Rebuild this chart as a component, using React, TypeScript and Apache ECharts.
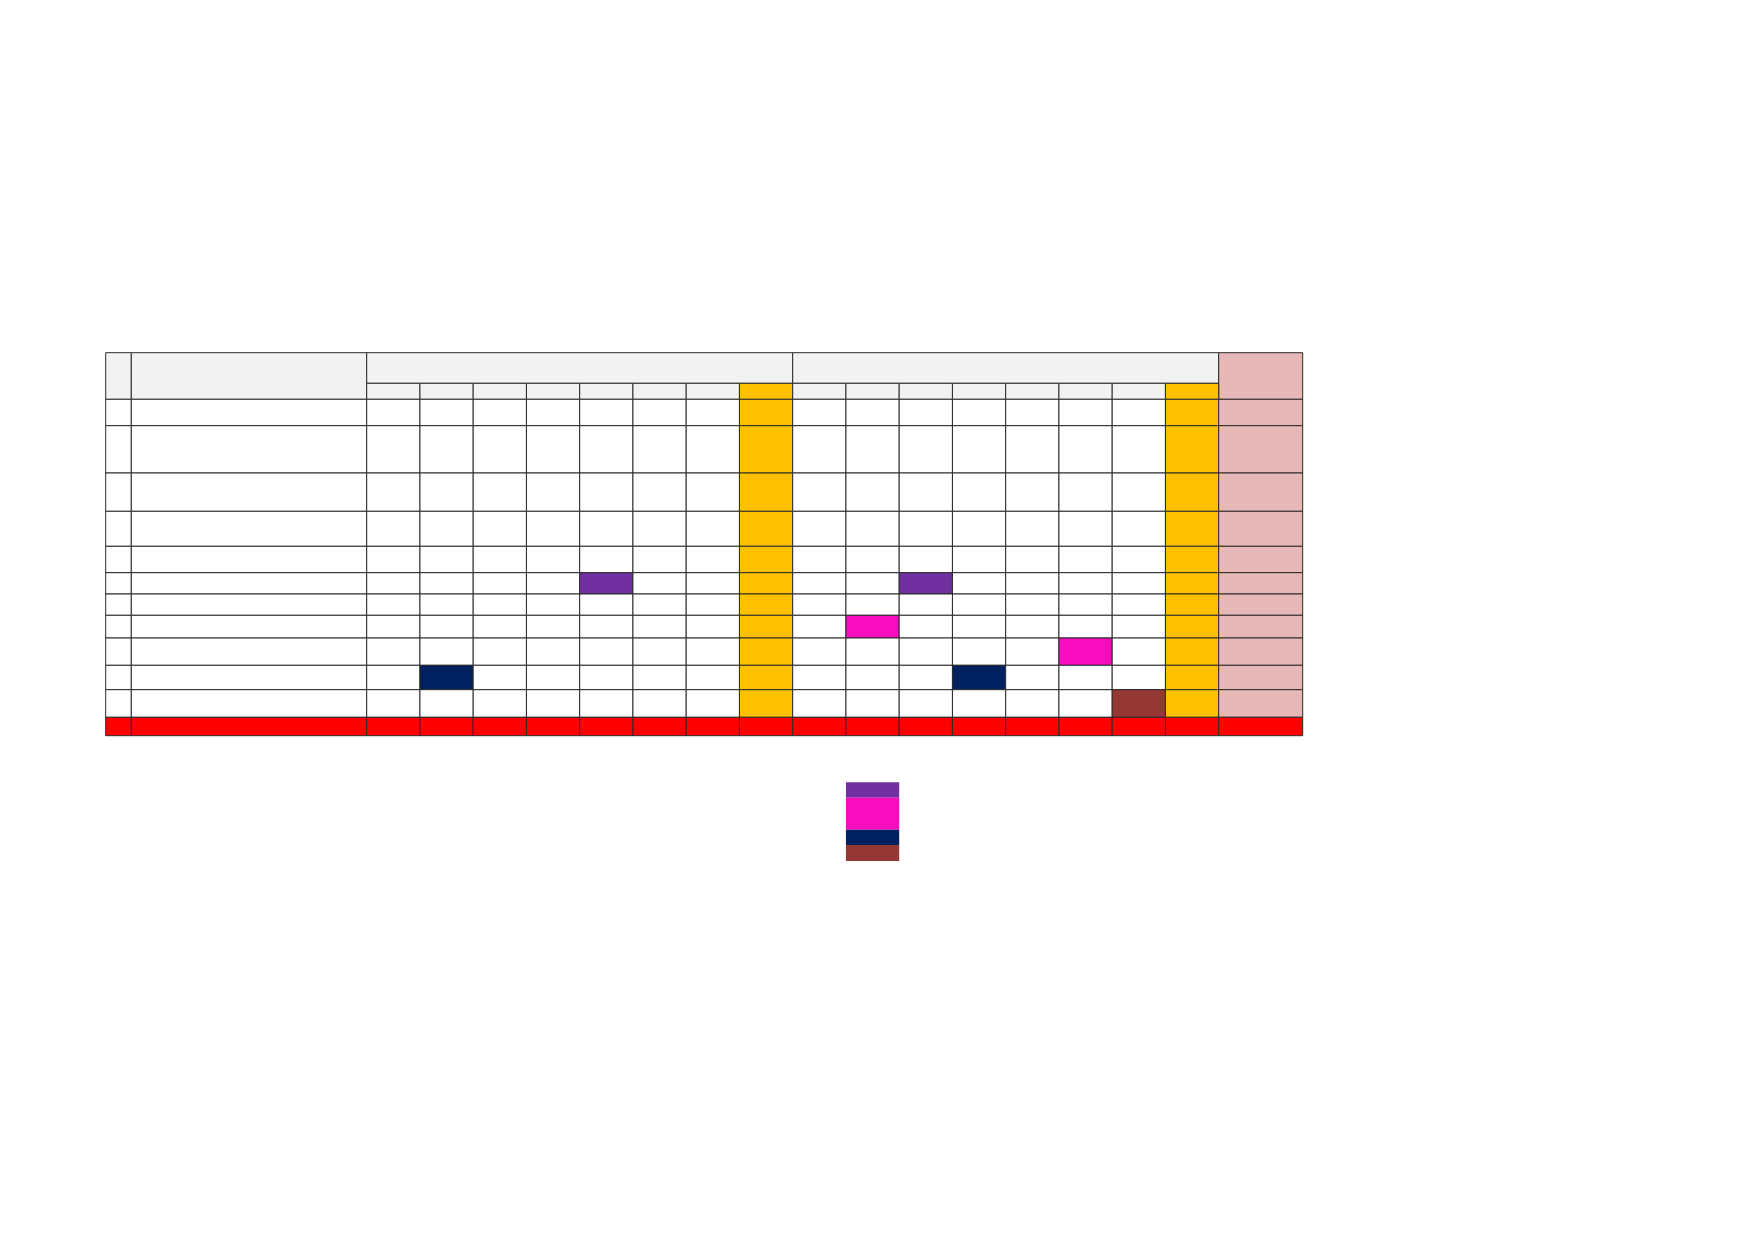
import { useEffect, useRef } from 'react'
import * as echarts from 'echarts'

// Table layout: column widths / row heights in reference units (1 unit = 1px)
const colWidths = [25.6, 235.4, ...Array(16).fill(53.25), 84]
const rowHeights = [30.6, 16, 26.4, 47.3, 38.3, 35, 26.4, 21.3, 21.3, 22.7, 27.3, 24.4, 27.6, 18.4]
const legendGap = 46.6
const legendHeights = [15.4, 32, 15.3, 16]

const palette: Record<string, string> = {
  white: '#FFFFFF',
  gray: '#F2F2F2',
  yellow: '#FFC000',
  pink: '#E6B8B7',
  red: '#FF0000',
  purple: '#7030A0',
  magenta: '#F80CBE',
  navy: '#002060',
  brown: '#953735',
}
const colorKeys = Object.keys(palette)

// month columns run 2..17, subtotal columns are the 8th of each block
const subtotalCols = [9, 17]
const totalCol = 18
const dataRowCount = 11

// highlighted cells: [data row, column, colour]
const highlights: [number, number, string][] = [
  [5, 6, 'purple'],
  [5, 12, 'purple'],
  [7, 11, 'magenta'],
  [8, 15, 'magenta'],
  [9, 3, 'navy'],
  [9, 13, 'navy'],
  [10, 16, 'brown'],
]

const legendColors = ['purple', 'magenta', 'navy', 'brown']
const legendCol = 11

const edges = (arr: number[]) => arr.reduce((acc, w) => [...acc, acc[acc.length - 1] + w], [0])

export default function App() {
  const ref = useRef<HTMLDivElement>(null)

  useEffect(() => {
    if (!ref.current) return
    const chart = echarts.init(ref.current, undefined, { renderer: 'svg' })

    const xs = edges(colWidths)
    const ys = edges(rowHeights)
    const tableH = ys[ys.length - 1]
    const ly = edges(legendHeights).map(v => v + tableH + legendGap)
    const totalW = xs[xs.length - 1]
    const totalH = ly[ly.length - 1]

    const ci = (k: string) => colorKeys.indexOf(k)
    const cells: number[][] = []
    // header block
    cells.push([0, 1, 0, 2, ci('gray')])
    cells.push([1, 2, 0, 2, ci('gray')])
    cells.push([2, 10, 0, 1, ci('gray')])
    cells.push([10, 18, 0, 1, ci('gray')])
    cells.push([18, 19, 0, 2, ci('pink')])
    for (let c = 2; c < 18; c++) {
      cells.push([c, c + 1, 1, 2, ci(subtotalCols.includes(c) ? 'yellow' : 'gray')])
    }
    // body rows
    for (let r = 0; r < dataRowCount; r++) {
      for (let c = 0; c < colWidths.length; c++) {
        const hl = highlights.find(h => h[0] === r && h[1] === c)
        let key = 'white'
        if (c === totalCol) key = 'pink'
        else if (subtotalCols.includes(c)) key = 'yellow'
        if (hl) key = hl[2]
        cells.push([c, c + 1, r + 2, r + 3, ci(key)])
      }
    }
    // total row
    for (let c = 0; c < colWidths.length; c++) {
      cells.push([c, c + 1, dataRowCount + 2, dataRowCount + 3, ci('red')])
    }

    const tableItem = (_p: unknown, api: any) => {
      const c0 = api.value(0), c1 = api.value(1), r0 = api.value(2), r1 = api.value(3)
      const a = api.coord([xs[c0], ys[r0]])
      const b = api.coord([xs[c1], ys[r1]])
      const fill = palette[colorKeys[api.value(4)]]
      return {
        type: 'rect',
        shape: { x: a[0], y: a[1], width: b[0] - a[0], height: b[1] - a[1] },
        style: { fill, stroke: '#2b2b2b', lineWidth: 1 },
      }
    }

    const legendData = legendColors.map((k, i) => [i, ci(k)])
    const legendItem = (_p: unknown, api: any) => {
      const i = api.value(0)
      const a = api.coord([xs[legendCol], ly[i]])
      const b = api.coord([xs[legendCol + 1], ly[i + 1]])
      return {
        type: 'rect',
        shape: { x: a[0], y: a[1], width: b[0] - a[0], height: b[1] - a[1] },
        style: { fill: palette[colorKeys[api.value(1)]] },
      }
    }

    chart.setOption({
      animation: false,
      backgroundColor: '#ffffff',
      grid: { left: 105.7, top: 352.7, width: totalW, height: totalH },
      xAxis: { type: 'value', min: 0, max: totalW, show: false },
      yAxis: { type: 'value', min: 0, max: totalH, inverse: true, show: false },
      series: [
        { type: 'custom', renderItem: tableItem, data: cells, silent: true },
        { type: 'custom', renderItem: legendItem, data: legendData, silent: true },
      ],
    })

    return () => chart.dispose()
  }, [])

  return <div ref={ref} style={{ position: 'fixed', left: 0, top: 0, width: 1752, height: 1239 }} />
}
